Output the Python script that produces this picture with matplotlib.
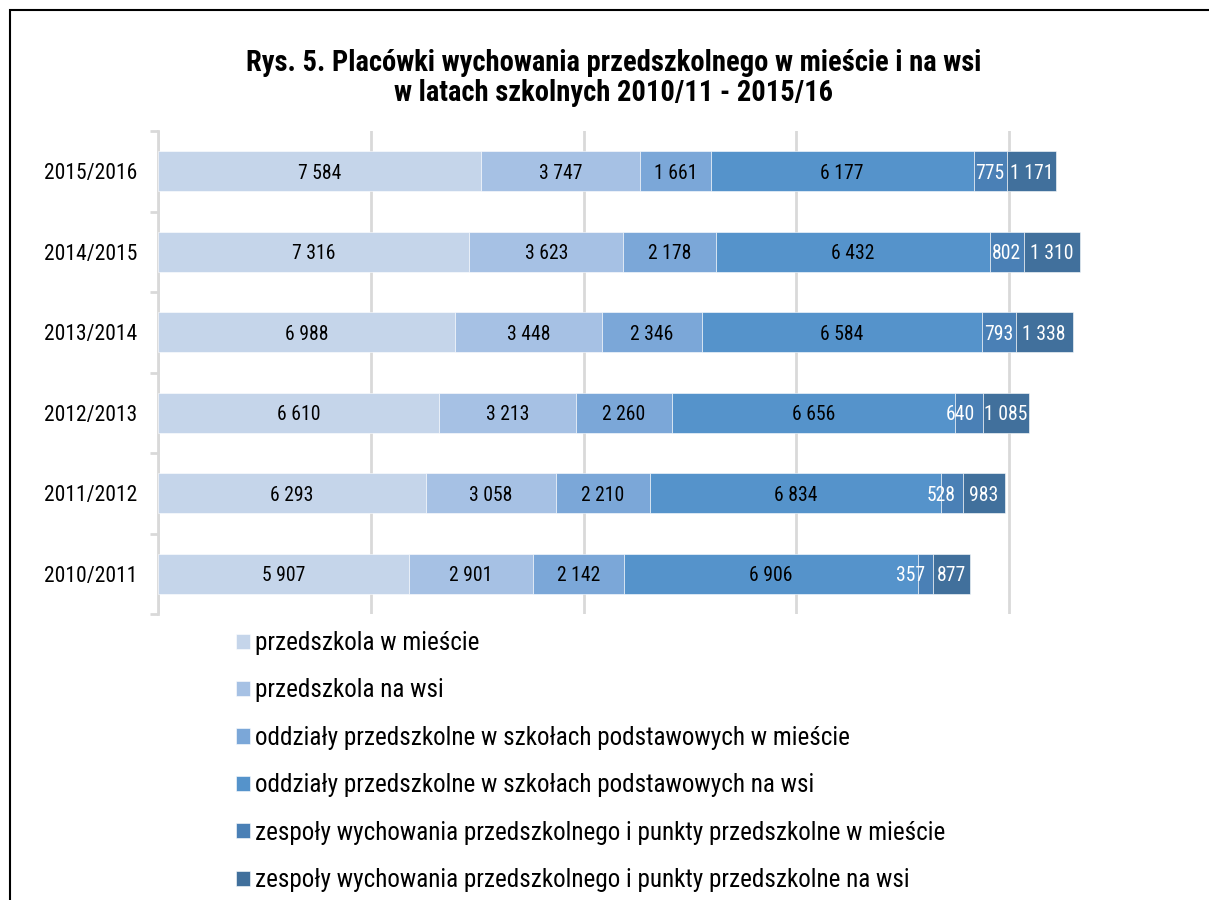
import matplotlib
matplotlib.use("Agg")
import matplotlib.pyplot as plt
from matplotlib.patches import Rectangle
from matplotlib.transforms import offset_copy
import numpy as np

FONT = ['Roboto Condensed', 'DejaVu Sans']
plt.rcParams['font.family'] = FONT

years = ['2015/2016', '2014/2015', '2013/2014', '2012/2013', '2011/2012', '2010/2011']
series_names = [
    'przedszkola w mieście',
    'przedszkola na wsi',
    'oddziały przedszkolne w szkołach podstawowych w mieście',
    'oddziały przedszkolne w szkołach podstawowych na wsi',
    'zespoły wychowania przedszkolnego i punkty przedszkolne w mieście',
    'zespoły wychowania przedszkolnego i punkty przedszkolne na wsi',
]
przedszkola_miasto = [7584, 7316, 6988, 6610, 6293, 5907]
przedszkola_wies = [3747, 3623, 3448, 3213, 3058, 2901]
oddzialy_miasto = [1661, 2178, 2346, 2260, 2210, 2142]
oddzialy_wies = [6177, 6432, 6584, 6656, 6834, 6906]
zespoly_miasto = [775, 802, 793, 640, 528, 357]
zespoly_wies = [1171, 1310, 1338, 1085, 983, 877]

series = [przedszkola_miasto, przedszkola_wies, oddzialy_miasto,
          oddzialy_wies, zespoly_miasto, zespoly_wies]
colors = ['#C5D5EA', '#A6C1E4', '#7BA7D8', '#5593CB', '#4A80B6', '#41709C']
label_colors = ['black', 'black', 'black', 'black', 'white', 'white']

W, H = 1209, 900
fig = plt.figure(figsize=(W / 100, H / 100), dpi=100)
renderer = fig.canvas.get_renderer()


def fit_size(text, width_px, weight='normal'):
    t = fig.text(0, 0, text, fontsize=10, fontweight=weight)
    w = t.get_window_extent(renderer).width
    t.remove()
    return 10 * width_px / w


title1 = 'Rys. 5. Placówki wychowania przedszkolnego w mieście i na wsi'
title2 = 'w latach szkolnych 2010/11 - 2015/16'
fs_title = fit_size(title1, 737, 'bold')
fs_year = fit_size('2015/2016', 92)
fs_val = fit_size('7 584', 43)
fs_leg = fit_size(series_names[4], 687)

# chart frame (cropped on right and bottom)
fig.add_artist(Rectangle((10 / W, -0.1), 1.2, (H - 10) / H + 0.1,
                         transform=fig.transFigure, fill=False,
                         edgecolor='black', linewidth=1.5))

ax_left, ax_right = 158, 158 + 851 * 25000 / 20000
ax_top, ax_bottom = 131, 614
ax = fig.add_axes([ax_left / W, 1 - ax_bottom / H,
                   (ax_right - ax_left) / W, (ax_bottom - ax_top) / H])
ax.set_xlim(0, 25000)
ax.set_ylim(len(years) - 0.5, -0.5)
px_per_unit = (ax_right - ax_left) / 25000

y = np.arange(len(years))
left = np.zeros(len(years))
n = len(series)
for si, (vals, col, lc, name) in enumerate(zip(series, colors, label_colors, series_names)):
    vals = np.array(vals, dtype=float)
    ax.barh(y, vals, left=left, height=0.5, color=col,
            edgecolor='white', linewidth=0.4, label=name, zorder=3)
    for yi, (l, v) in enumerate(zip(left, vals)):
        t = ax.text(l + v / 2, yi, f'{int(v):,}'.replace(',', ' '),
                    ha='center', va='center_baseline', fontsize=fs_val,
                    color=lc, zorder=4)
        tw = t.get_window_extent(renderer).width
        if si < n - 1 and tw > v * px_per_unit:
            # label wider than its segment: keep it clear of the next label
            t.set_x(l + v)
            t.set_ha('right')
            t.set_transform(offset_copy(ax.transData, fig=fig, x=-8, y=0,
                                        units='dots'))
    left += vals

ax.set_xticks([0, 5000, 10000, 15000, 20000])
ax.xaxis.grid(True, color='#D9D9D9', linewidth=2, zorder=0)
ax.tick_params(axis='x', length=0, labelbottom=False)
ax.set_yticks(y)
ax.set_yticklabels(years, fontsize=fs_year)
for t in ax.get_yticklabels():
    t.set_verticalalignment('center_baseline')
ax.set_yticks(np.arange(len(years) + 1) - 0.5, minor=True)
ax.tick_params(axis='y', which='major', length=0, pad=15)
ax.tick_params(axis='y', which='minor', length=6, width=2, color='#D9D9D9')
for s in ['top', 'right', 'bottom']:
    ax.spines[s].set_visible(False)
ax.spines['left'].set_color('#D9D9D9')
ax.spines['left'].set_linewidth(2)

fig.text(614 / W, 1 - 60 / H, title1,
         ha='center', va='center_baseline', fontsize=fs_title, fontweight='bold')
fig.text(614 / W, 1 - 90 / H, title2,
         ha='center', va='center_baseline', fontsize=fs_title, fontweight='bold')

handles, labels = ax.get_legend_handles_labels()
leg = fig.legend(handles, labels, loc='upper left',
                 bbox_to_anchor=(226 / W, 1 - 621 / H), frameon=False,
                 fontsize=fs_leg, handlelength=0.55, handleheight=0.55,
                 handletextpad=0.2, labelspacing=0.93, borderaxespad=0)

fig.savefig('out.png', dpi=100)
